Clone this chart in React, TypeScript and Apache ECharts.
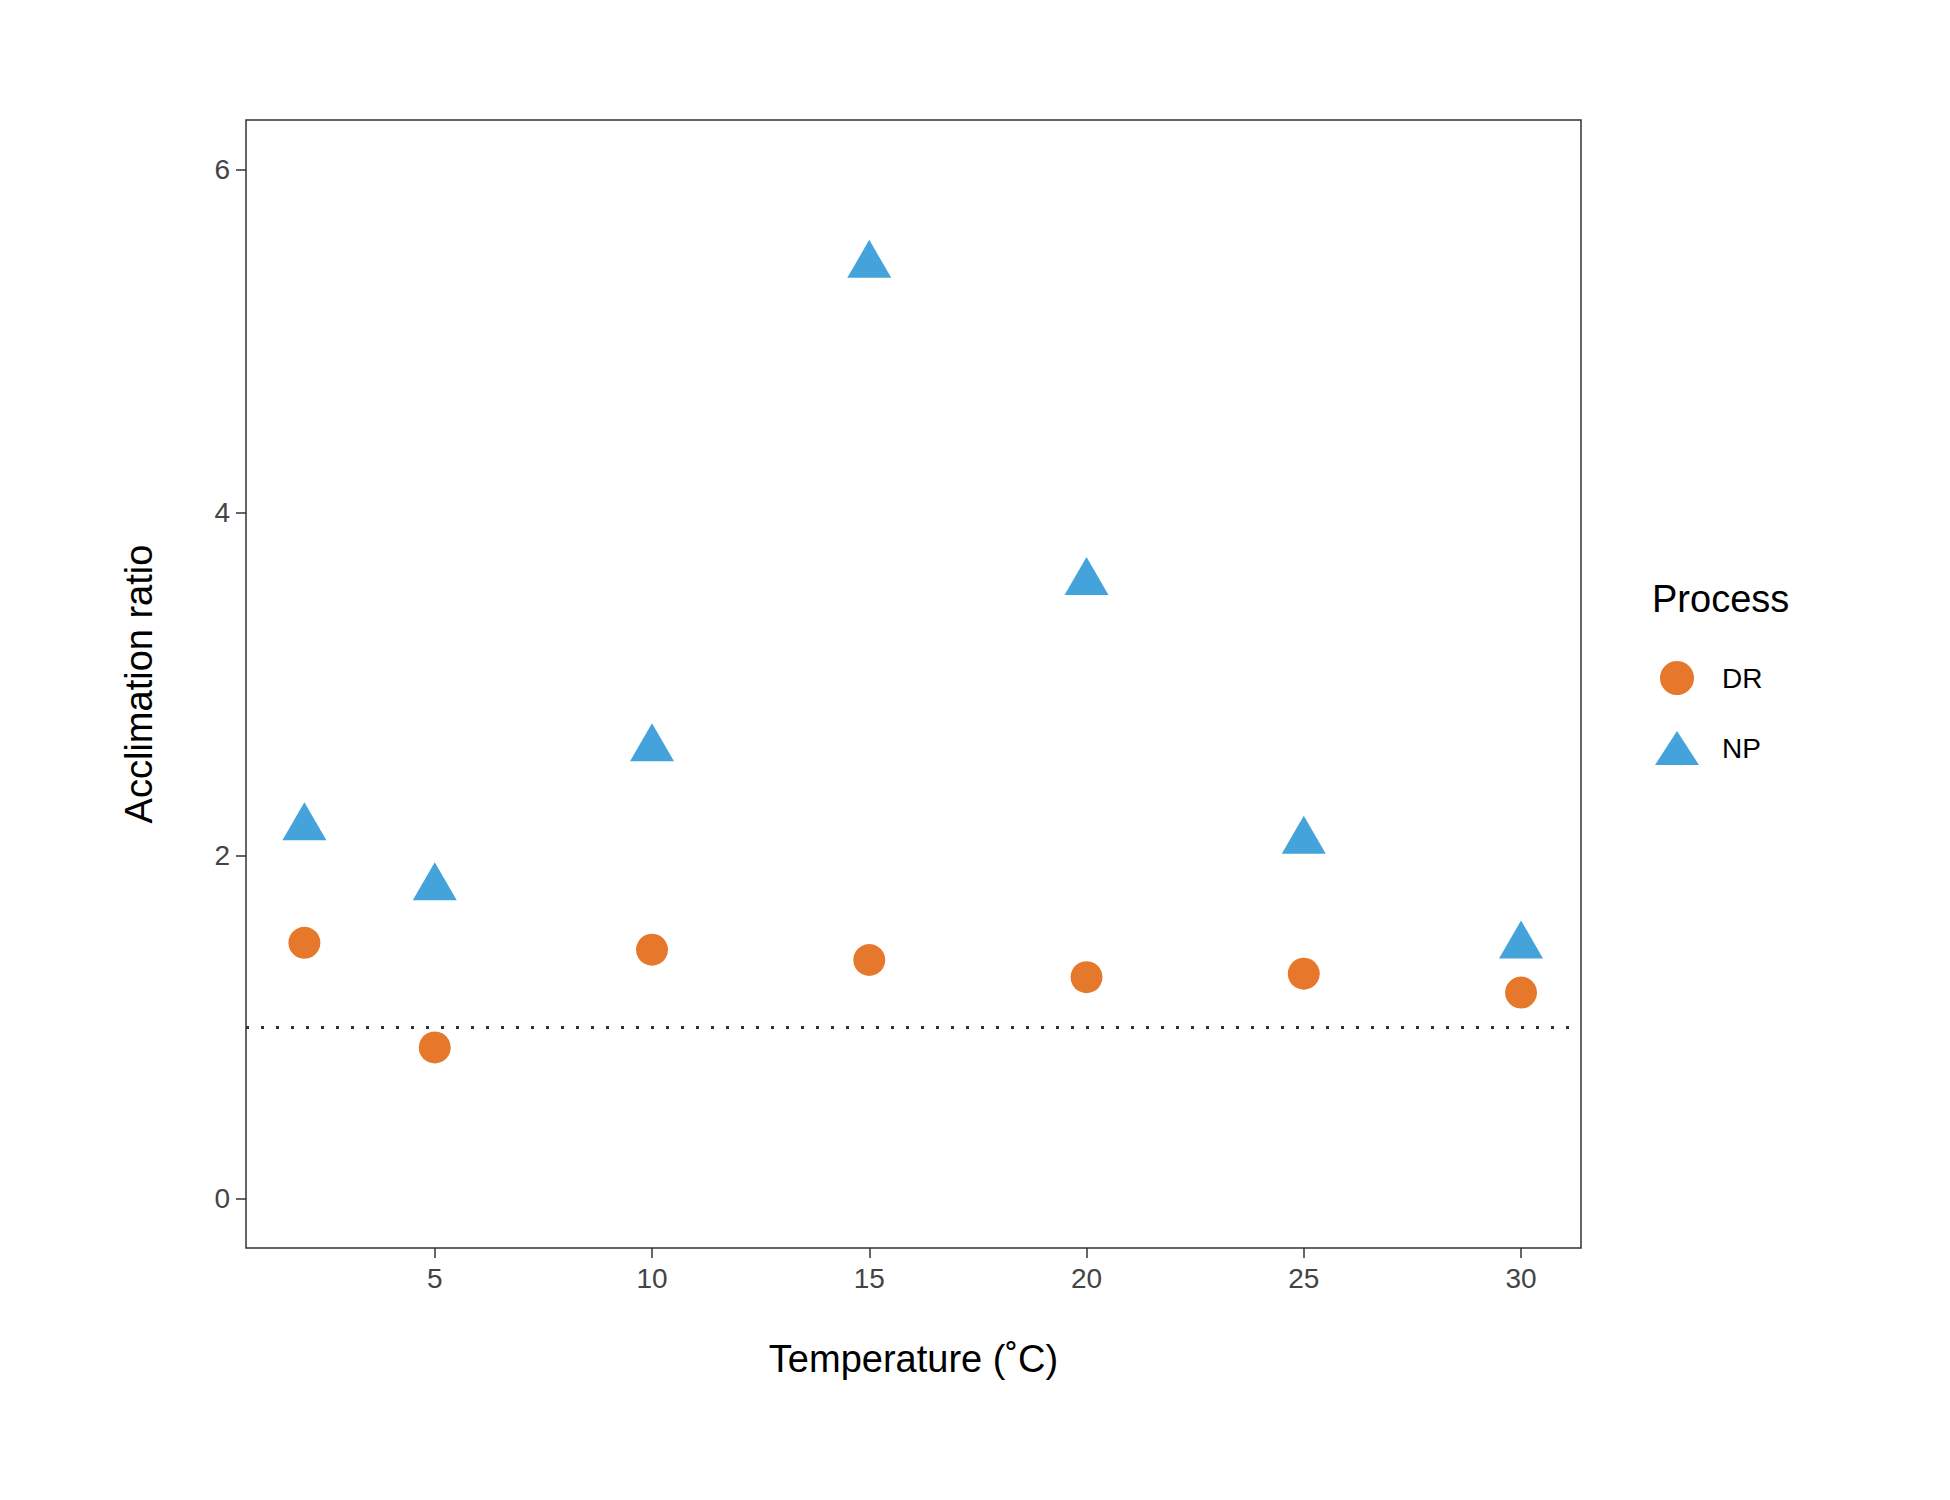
import { useEffect, useRef } from 'react'
import * as echarts from 'echarts'

const temps = [2, 5, 10, 15, 20, 25, 30]
const drValues = [1.49, 0.88, 1.45, 1.39, 1.29, 1.31, 1.2]
const npValues = [2.2, 1.85, 2.66, 5.48, 3.63, 2.12, 1.51]
const xTicks = [5, 10, 15, 20, 25, 30]
const yTicks = [0, 2, 4, 6]
const refLine = 1

const FONT = 'Liberation Sans, Arial, sans-serif'

export default function App() {
  const chartRef = useRef<HTMLDivElement>(null)

  useEffect(() => {
    document.body.style.margin = '0'
    if (!chartRef.current) return
    const chart = echarts.init(chartRef.current, null, { renderer: 'svg' })
    chart.setOption({
      animation: false,
      backgroundColor: '#fff',
      textStyle: { fontFamily: FONT },
      grid: { left: 246, top: 120, width: 1335, height: 1128, show: true, borderColor: '#333', borderWidth: 1.5, backgroundColor: 'transparent' },
      legend: {
        orient: 'vertical', left: 1650, top: 656, itemGap: 36, itemWidth: 44, itemHeight: 34,
        textStyle: { fontSize: 28, color: '#000', fontFamily: FONT, padding: [0, 0, 0, 18] },
        data: [{ name: 'DR', icon: 'circle' }, { name: 'NP', icon: 'triangle' }],
      },
      graphic: [
        { type: 'text', left: 1652, top: 580, style: { text: 'Process', fontSize: 38, fill: '#000', fontFamily: FONT } },
      ],
      xAxis: {
        type: 'value', min: 0.656, max: 31.38,
        name: 'Temperature (˚C)', nameLocation: 'middle', nameGap: 92,
        nameTextStyle: { fontSize: 38, color: '#000', fontFamily: FONT },
        axisLine: { show: false, onZero: false },
        axisTick: { show: true, length: 10, customValues: xTicks, lineStyle: { color: '#333', width: 1.5 } },
        axisLabel: { customValues: xTicks, fontSize: 28, color: '#444', margin: 16, fontFamily: FONT },
        splitLine: { show: false },
      },
      yAxis: {
        type: 'value', min: -0.29, max: 6.29,
        name: 'Acclimation ratio', nameLocation: 'middle', nameGap: 88,
        nameTextStyle: { fontSize: 38, color: '#000', fontFamily: FONT },
        axisLine: { show: false, onZero: false },
        axisTick: { show: true, length: 10, customValues: yTicks, lineStyle: { color: '#333', width: 1.5 } },
        axisLabel: { customValues: yTicks, fontSize: 28, color: '#444', margin: 16, fontFamily: FONT },
        splitLine: { show: false },
      },
      series: [
        {
          name: 'DR', type: 'scatter', symbol: 'circle', symbolSize: 32,
          itemStyle: { color: '#e4711f', opacity: 0.95 },
          data: temps.map((t, i) => [t, drValues[i]]),
          markLine: {
            silent: true, symbol: 'none', label: { show: false },
            lineStyle: { color: '#333', width: 3, type: [3, 12] },
            data: [{ yAxis: refLine }],
          },
        },
        {
          name: 'NP', type: 'scatter', symbol: 'triangle', symbolSize: [44, 38],
          itemStyle: { color: '#3a9ed8', opacity: 0.95 },
          data: temps.map((t, i) => [t, npValues[i]]),
        },
      ],
    })
    return () => chart.dispose()
  }, [])

  return <div ref={chartRef} style={{ width: 1950, height: 1500 }} />
}
